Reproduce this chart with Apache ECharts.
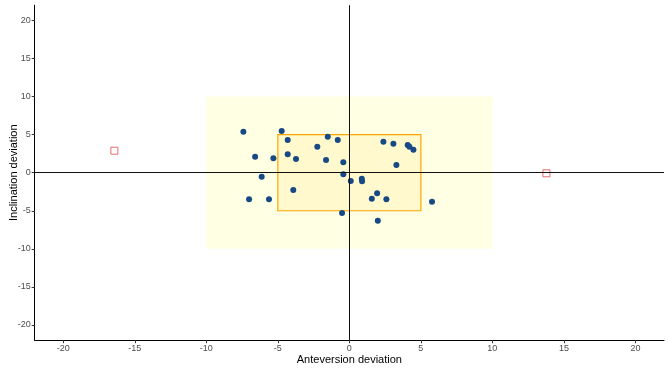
<!DOCTYPE html>
<html><head><meta charset="utf-8">
<script src="https://cdn.jsdelivr.net/npm/echarts@6/dist/echarts.min.js"></script>
<style>html,body{margin:0;padding:0;background:#fff}#c{width:669px;height:371px}</style>
</head><body><div id="c"></div>
<script>
const anteversion = [-7.41,-4.73,-4.31,-6.59,-5.31,-4.31,-3.73,-2.24,-1.51,-0.81,-1.63,-0.42,-6.13,-0.42,0.10,-3.92,-7.01,-5.62,-0.51,2.38,3.08,4.08,4.20,4.48,3.29,0.87,0.89,1.94,1.57,2.59,5.78,1.99];
const inclination = [5.38,5.48,4.29,2.10,1.89,2.42,1.80,3.41,4.73,4.29,1.67,1.37,-0.53,-0.21,-1.09,-2.27,-3.49,-3.49,-5.29,4.07,3.81,3.64,3.41,3.02,1.01,-0.79,-1.13,-2.71,-3.41,-3.49,-3.81,-6.30];
const outlierX = [-16.43, 13.78];
const outlierY = [2.89, -0.08];
const safeOuter = [-10, 10];
const safeInner = [-5, 5];
const tickValues = [-20,-15,-10,-5,0,5,10,15,20];

const pts = anteversion.map((x,i)=>[x, inclination[i]]);
const outs = outlierX.map((x,i)=>[x, outlierY[i]]);
const font = 'Liberation Sans, Arial, sans-serif';
const axisCommon = {
  min:-22, max:22, interval:5,
  axisLine:{show:true, onZero:false, lineStyle:{color:'#000', width:1}},
  splitLine:{show:false},
  axisLabel:{color:'#4d4d4d', fontSize:9, fontFamily:font, margin:4,
    customValues: tickValues, formatter: v => String(v)},
  nameLocation:'middle',
  nameMoveOverlap:false,
  nameTextStyle:{color:'#000', fontSize:11, fontFamily:font}
};
const chart = echarts.init(document.getElementById('c'), null, {renderer:'canvas'});
chart.setOption({
  animation:false,
  grid:{left:34.7, right:5, top:5.2, bottom:30.8, containLabel:false, outerBoundsMode:'none'},
  xAxis:Object.assign({}, axisCommon, {name:'Anteversion deviation', nameGap:14,
    axisTick:{show:true, length:3, customValues:tickValues, lineStyle:{color:'#333'}}}),
  yAxis:Object.assign({}, axisCommon, {name:'Inclination deviation', nameGap:15,
    axisTick:{show:true, length:3, customValues:tickValues, lineStyle:{color:'#333'}}}),
  series:[
    {type:'scatter', data:[], z:1, silent:true,
     markArea:{silent:true, data:[
       [{coord:[safeOuter[0], safeOuter[0]], itemStyle:{color:'rgba(255,255,200,0.5)', borderWidth:0}},
        {coord:[safeOuter[1], safeOuter[1]]}],
       [{coord:[safeInner[0], safeInner[0]], itemStyle:{color:'rgba(255,245,190,0.6)', borderColor:'#FFA500', borderWidth:1.2}},
        {coord:[safeInner[1], safeInner[1]]}]
     ]}},
    {type:'scatter', data:[], z:2, silent:true,
     markLine:{silent:true, symbol:'none', label:{show:false},
       lineStyle:{color:'#111', width:1, type:'solid'},
       data:[{xAxis:0},{yAxis:0}]}},
    {type:'scatter', data:pts, z:3, symbol:'circle', symbolSize:6,
     itemStyle:{color:'#174a85', opacity:1}},
    {type:'scatter', data:outs, z:3, symbol:'rect', symbolSize:7,
     itemStyle:{color:'rgba(0,0,0,0)', borderColor:'#e04848', borderWidth:1}}
  ]
});
</script></body></html>
